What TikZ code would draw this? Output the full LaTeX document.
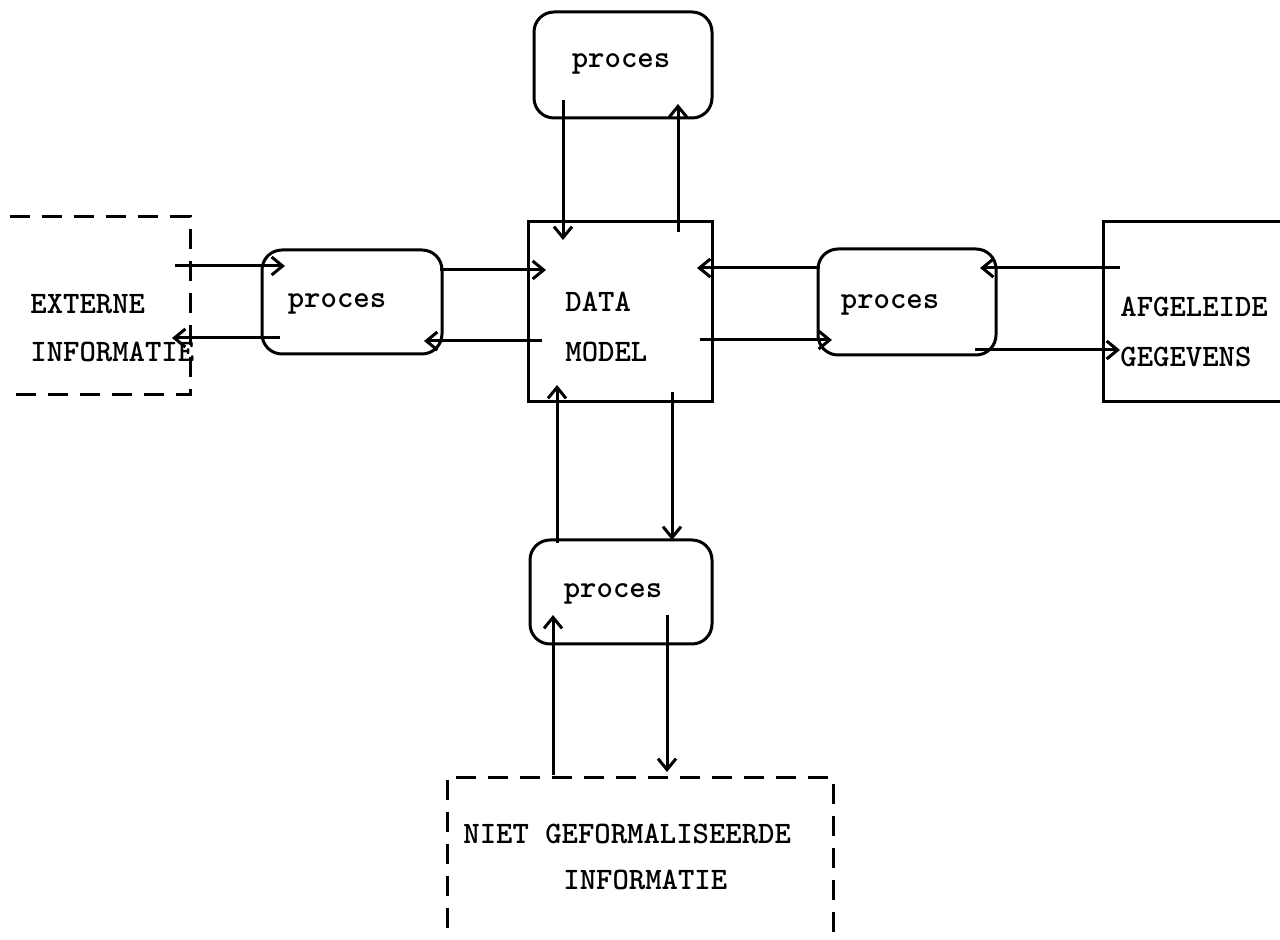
\documentclass[tikz,border=0pt]{standalone}
\usetikzlibrary{arrows.meta}
\begin{document}
\begin{tikzpicture}[x=0.5pt,y=-0.5pt,
  every node/.style={font=\ttfamily\bfseries\fontsize{15.6}{17}\selectfont},
  proc/.style={draw, line width=1.5pt, rounded corners=10pt, inner sep=0pt, outer sep=0pt},
  plainbox/.style={draw, line width=1.5pt, inner sep=0pt, outer sep=0pt},
  hidden/.style={inner sep=0pt, outer sep=0pt},
  dsh/.style={line width=1.5pt, dash pattern=on 10pt off 6pt},
  solidline/.style={line width=1.5pt},
  arr/.style={line width=1.5pt, -{Straight Barb[length=5.5pt,width=9pt]}},
  txt/.style={anchor=west, inner sep=0pt}]
\useasboundingbox (0,0) rectangle (1280,940);

% boxes
\node[proc, minimum width=89pt, minimum height=53pt] (tp) at (623,65) {};
\node[proc, minimum width=90pt, minimum height=52pt] (lp) at (352,302) {};
\node[proc, minimum width=89pt, minimum height=53pt] (rp) at (907,302) {};
\node[proc, minimum width=91pt, minimum height=52pt] (bp) at (621,592) {};
\node[plainbox, minimum width=92pt, minimum height=90pt] (dm) at (620,312) {};
\node[hidden, minimum width=90pt, minimum height=89pt] (ext) at (100,306) {};
\node[hidden, minimum width=93.5pt, minimum height=90pt] (afg) at (1196.5,312) {};
\node[hidden, minimum width=193pt, minimum height=91.5pt] (niet) at (640,868.5) {};

\draw[dsh] (ext.north west) -- (ext.north east) -- (ext.south east) -- (ext.south west);
\draw[solidline] (afg.north east) -- (afg.north west) -- (afg.south west) -- (afg.south east);
\draw[dsh] (niet.south west) -- (niet.north west) -- (niet.north east) -- (niet.south east);

% texts
\node[anchor=center, inner sep=0pt] (tpt) at (621,64) {proces};
\node[anchor=center, inner sep=0pt] (lpt) at (337,304) {proces};
\node[anchor=center, inner sep=0pt] (rpt) at (890,305) {proces};
\node[anchor=center, inner sep=0pt] (bpt) at (613,594) {proces};
\node[txt] (dm1) at (565,302) {DATA};
\node[txt] (dm2) at (565,352) {MODEL};
\node[txt] (ex1) at (30,304) {EXTERNE};
\node[txt] (ex2) at (30,352) {INFORMATIE};
\node[txt] (af1) at (1120,307) {AFGELEIDE};
\node[txt] (af2) at (1120,357) {GEGEVENS};
\node[txt] (ni1) at (463,834) {NIET GEFORMALISEERDE};
\node[txt] (ni2) at (563,880) {INFORMATIE};

% connectors
\draw[arr] ([shift={(-15,49)}]ext.north east) -- ([shift={(23,16)}]lp.north west);
\draw[arr] ([shift={(18,-16)}]lp.south west) -- ([shift={(-18,-57)}]ext.south east);
\draw[arr] ([shift={(-2,20)}]lp.north east) -- ([shift={(18,48)}]dm.north west);
\draw[arr] ([shift={(14,-61)}]dm.south west) -- ([shift={(-18,-13)}]lp.south east);
\draw[arr] ([shift={(2,19)}]rp.north west) -- ([shift={(-15,46)}]dm.north east);
\draw[arr] ([shift={(-12,-62)}]dm.south east) -- ([shift={(14,-15)}]rp.south west);
\draw[arr] ([shift={(17,46)}]afg.north west) -- ([shift={(-16,19)}]rp.north east);
\draw[arr] ([shift={(-21,-5)}]rp.south east) -- ([shift={(17,-52)}]afg.south west);
\draw[arr] ([shift={(29,-18)}]tp.south west) -- ([shift={(35,18)}]dm.north west);
\draw[arr] ([shift={(-34,10)}]dm.north east) -- ([shift={(-34,-14)}]tp.south east);
\draw[arr] ([shift={(27,3)}]bp.north west) -- ([shift={(29,-17)}]dm.south west);
\draw[arr] ([shift={(-40,-10)}]dm.south east) -- ([shift={(-40,0)}]bp.north east);
\draw[arr] ([shift={(106,-2)}]niet.north west) -- ([shift={(23,-29)}]bp.south west);
\draw[arr] ([shift={(-45,-29)}]bp.south east) -- ([shift={(220,-5)}]niet.north west);
\end{tikzpicture}
\end{document}
